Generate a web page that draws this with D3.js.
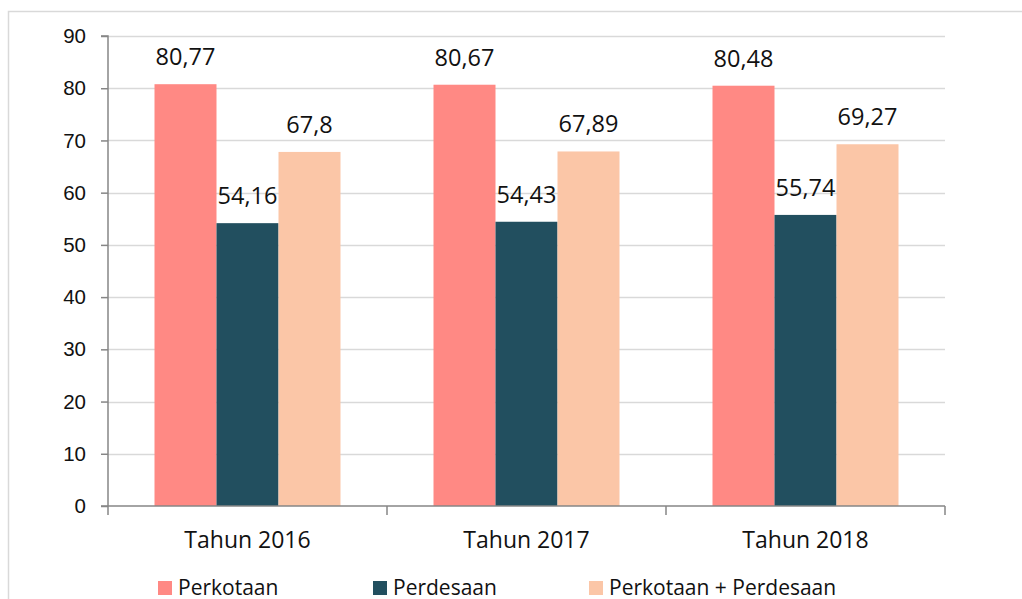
<!DOCTYPE html>
<html>
<head>
<meta charset="utf-8">
<script src="https://cdn.jsdelivr.net/npm/d3@7"></script>
<style>
  html, body { margin: 0; padding: 0; background: #fff; }
  svg { display: block; font-family: "Open Sans", "Noto Sans", "Liberation Sans", sans-serif; }
</style>
</head>
<body>
<svg id="chart" width="1022" height="599"></svg>
<script>
// Categories and series
const categories = ["Tahun 2016", "Tahun 2017", "Tahun 2018"];
const seriesNames = ["Perkotaan", "Perdesaan", "Perkotaan + Perdesaan"];
const perkotaan = [80.77, 80.67, 80.48];
const perdesaan = [54.16, 54.43, 55.74];
const gabungan = [67.8, 67.89, 69.27];
const yTicks = [0, 10, 20, 30, 40, 50, 60, 70, 80, 90];
const colors = ["#FF8984", "#224F5F", "#FBC6A7"];

const seriesValues = [perkotaan, perdesaan, gabungan];
const fmt = v => String(v).replace(".", ",");

const svg = d3.select("#chart");

// Outer frame
svg.append("path")
  .attr("d", "M8.5,610 L8.5,11.5 L1030,11.5")
  .attr("fill", "none").attr("stroke", "#d9d9d9").attr("stroke-width", 1.5);

const plotLeft = 108, plotRight = 945, plotTop = 36, plotBottom = 506;

const x0 = d3.scaleBand().domain(categories).range([plotLeft, plotRight]).paddingInner(0).paddingOuter(0);
const x1 = d3.scaleBand().domain(seriesNames).range([0, x0.bandwidth()]).paddingOuter(0.75).paddingInner(0);
const y = d3.scaleLinear().domain([0, 90]).range([plotBottom, plotTop]);

// Gridlines
svg.append("g").selectAll("line").data(yTicks.filter(t => t > 0)).join("line")
  .attr("x1", plotLeft).attr("x2", plotRight)
  .attr("y1", d => Math.round(y(d)) + 0.5).attr("y2", d => Math.round(y(d)) + 0.5)
  .attr("stroke", "#d9d9d9").attr("stroke-width", 1.5);

// Bars with value labels
const groups = svg.append("g").selectAll("g").data(categories).join("g")
  .attr("transform", d => `translate(${x0(d)},0)`);

groups.each(function(cat, ci) {
  const g = d3.select(this);
  seriesNames.forEach((s, si) => {
    const v = seriesValues[si][ci];
    g.append("rect")
      .attr("x", x1(s)).attr("width", x1.bandwidth())
      .attr("y", y(v)).attr("height", y(0) - y(v))
      .attr("fill", colors[si]);
    g.append("text")
      .attr("x", x1(s) + x1.bandwidth() / 2)
      .attr("y", y(v) - 19)
      .attr("text-anchor", "middle")
      .attr("font-size", 23.5).attr("fill", "#111")
      .text(fmt(v));
  });
});

// Y axis
const yAxis = d3.axisLeft(y).tickValues(yTicks).tickSize(7).tickPadding(15).tickFormat(d3.format("d"));
const ya = svg.append("g").attr("transform", `translate(${plotLeft},0)`).call(yAxis);
ya.select(".domain").attr("stroke", "#868686").attr("stroke-width", 1.5).attr("d", `M-7,${plotTop}H0V${plotBottom}`);
ya.selectAll(".tick line").attr("stroke", "#868686").attr("stroke-width", 1.5);
ya.selectAll(".tick text").attr("font-size", 20.5).attr("fill", "#111").attr("font-family", null);

// X axis
const xa = svg.append("g").attr("transform", `translate(0,${plotBottom})`);
xa.append("line").attr("x1", plotLeft - 7).attr("x2", plotRight).attr("y1", 0).attr("y2", 0)
  .attr("stroke", "#868686").attr("stroke-width", 1.5);
const boundaries = categories.map(c => x0(c)).concat([plotRight]);
xa.selectAll("line.tk").data(boundaries).join("line").attr("class", "tk")
  .attr("x1", d => d).attr("x2", d => d).attr("y1", 0).attr("y2", 9)
  .attr("stroke", "#868686").attr("stroke-width", 1.5);
xa.selectAll("text").data(categories).join("text")
  .attr("x", d => x0(d) + x0.bandwidth() / 2).attr("y", 42)
  .attr("text-anchor", "middle").attr("font-size", 23).attr("fill", "#111")
  .text(d => d);

// Legend
const legendX = [158, 373, 589];
const lg = svg.append("g").selectAll("g").data(seriesNames).join("g")
  .attr("transform", (d, i) => `translate(${legendX[i]},581)`);
lg.append("rect").attr("width", 14).attr("height", 14).attr("fill", (d, i) => colors[i]);
lg.append("text").attr("x", 20).attr("y", 14).attr("font-size", 21).attr("fill", "#111").text(d => d);
</script>
</body>
</html>
